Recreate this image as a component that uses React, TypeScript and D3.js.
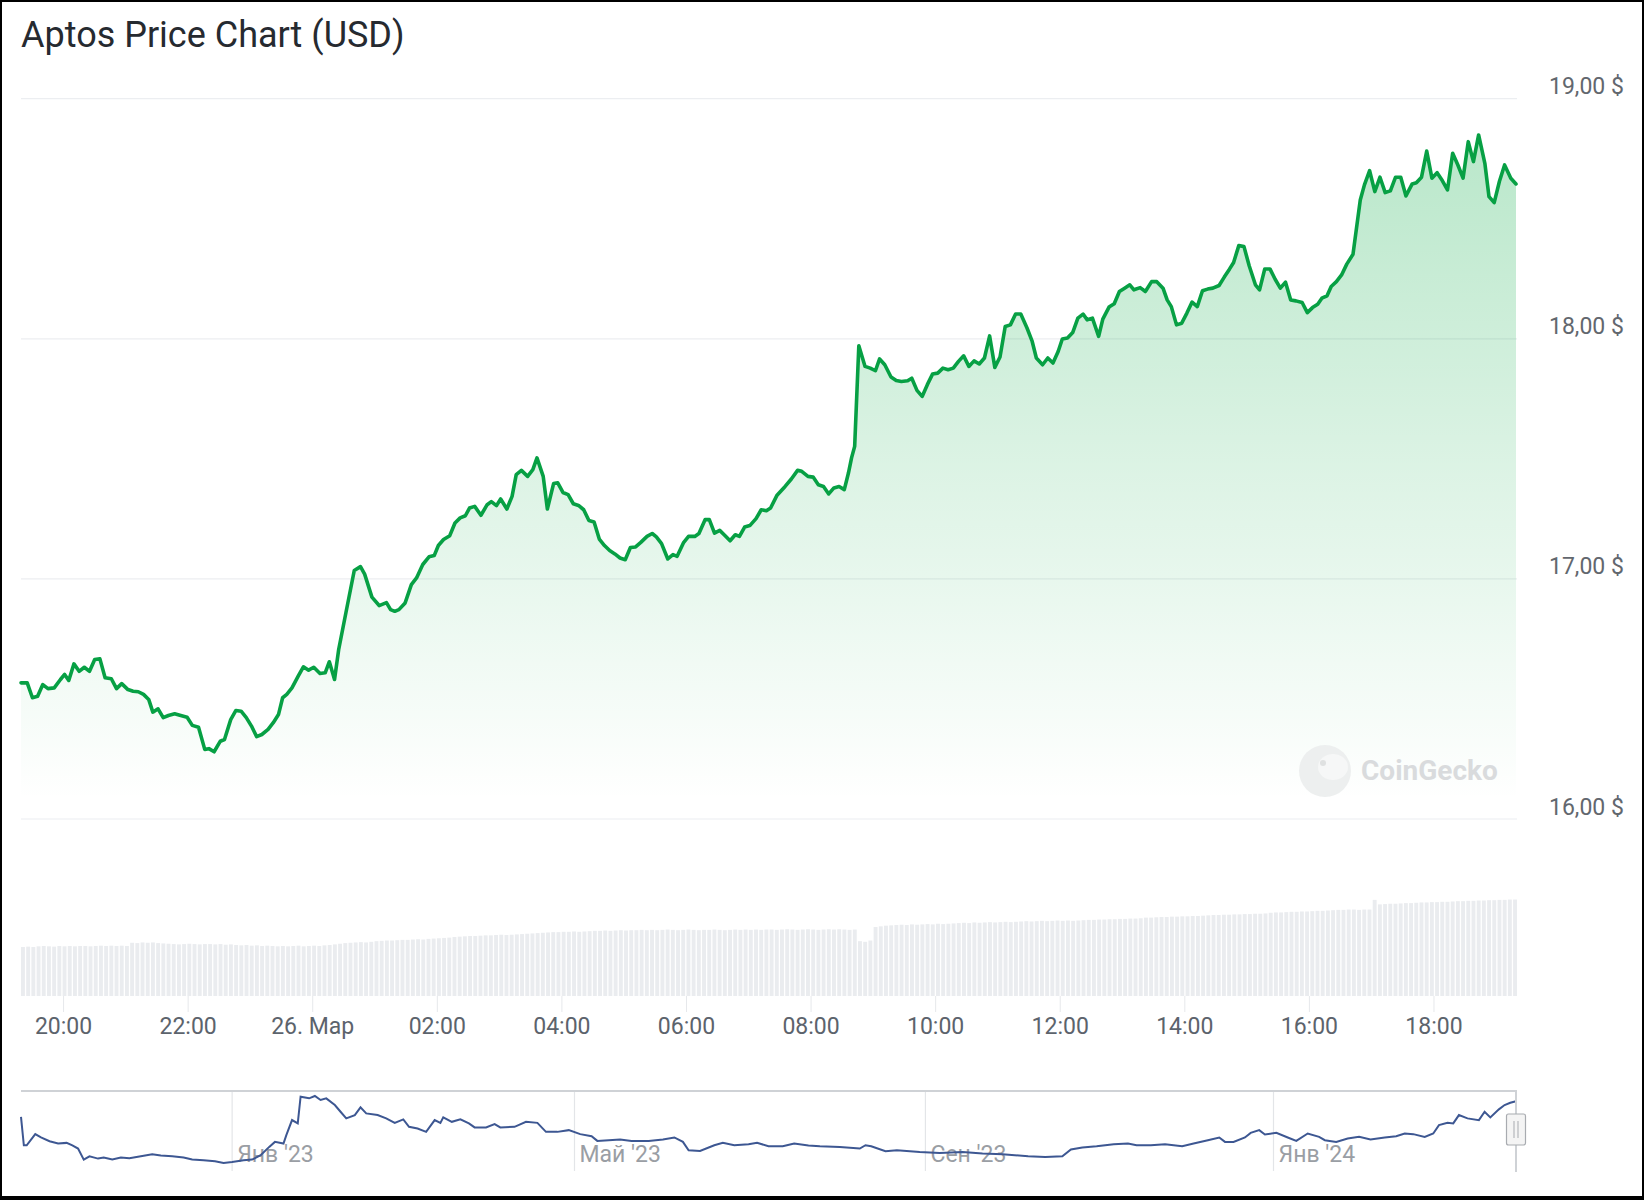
import React, { Component } from "react";
import * as d3 from "d3";

// 24h window shown in the main chart
const chartStart = new Date(2024, 2, 25, 19, 19);
const chartEnd = new Date(2024, 2, 26, 19, 19);

// minutes after chartStart
const priceMinutes = [
  0, 6, 11, 16, 21, 26, 32, 38, 42, 46, 51, 56, 61, 66, 71, 76, 81, 87, 92, 97,
  103, 108, 113, 118, 123, 127, 132, 137, 142, 148, 153, 160, 165, 171, 177, 181, 186, 192, 196, 202,
  207, 212, 217, 222, 227, 232, 238, 243, 248, 252, 256, 261, 267, 272, 277, 282, 288, 293, 297, 302,
  306, 313, 321, 327, 331, 338, 345, 352, 356, 360, 364, 370, 376, 381, 387, 393, 398, 402, 407, 413,
  418, 423, 428, 432, 437, 443, 449, 453, 458, 462, 468, 473, 477, 482, 488, 493, 497, 503, 507, 513,
  517, 522, 527, 532, 537, 542, 547, 552, 557, 562, 567, 572, 577, 582, 587, 592, 597, 603, 608, 612,
  617, 623, 628, 632, 638, 643, 649, 653, 659, 663, 668, 673, 678, 683, 688, 692, 697, 702, 708, 713,
  718, 722, 728, 736, 742, 748, 752, 758, 763, 768, 773, 778, 783, 788, 793, 797, 800, 803, 807, 813,
  818, 823, 827, 832, 838, 843, 848, 854, 858, 863, 868, 873, 878, 883, 888, 893, 898, 903, 908, 913,
  918, 923, 928, 933, 938, 943, 948, 953, 958, 963, 969, 974, 978, 984, 989, 994, 999, 1003, 1008, 1013,
  1018, 1023, 1027, 1032, 1038, 1042, 1048, 1053, 1058, 1063, 1068, 1072, 1078, 1083, 1089, 1094, 1100, 1104, 1108, 1113,
  1118, 1123, 1128, 1133, 1138, 1143, 1148, 1154, 1159, 1164, 1168, 1173, 1178, 1183, 1189, 1193, 1198, 1203, 1208, 1213,
  1218, 1223, 1228, 1234, 1239, 1244, 1249, 1253, 1258, 1262, 1267, 1272, 1277, 1283, 1290, 1294, 1299, 1304, 1309, 1314,
  1319, 1324, 1329, 1334, 1340, 1344, 1349, 1354, 1359, 1364, 1369, 1374, 1379, 1384, 1389, 1394, 1399, 1404, 1410, 1414,
  1419, 1424, 1429, 1435, 1440
];

const priceValues = [
  16.567, 16.567, 16.505, 16.511, 16.56, 16.543, 16.546, 16.581, 16.602, 16.577, 16.646, 16.615, 16.632, 16.615, 16.664, 16.667, 16.588, 16.584, 16.543, 16.564,
  16.539, 16.532, 16.53, 16.519, 16.498, 16.445, 16.459, 16.422, 16.431, 16.438, 16.432, 16.424, 16.39, 16.382, 16.29, 16.293, 16.28, 16.324, 16.331, 16.414,
  16.452, 16.449, 16.422, 16.387, 16.343, 16.352, 16.373, 16.401, 16.435, 16.505, 16.519, 16.546, 16.595, 16.634, 16.62, 16.632, 16.606, 16.609, 16.655, 16.581,
  16.706, 16.86, 17.035, 17.051, 17.02, 16.924, 16.889, 16.901, 16.872, 16.865, 16.872, 16.9, 16.976, 17.004, 17.06, 17.092, 17.097, 17.139, 17.164, 17.18,
  17.233, 17.254, 17.263, 17.295, 17.302, 17.265, 17.309, 17.322, 17.305, 17.333, 17.291, 17.344, 17.434, 17.452, 17.427, 17.455, 17.504, 17.427, 17.291, 17.397,
  17.4, 17.36, 17.351, 17.313, 17.306, 17.288, 17.243, 17.237, 17.166, 17.139, 17.118, 17.104, 17.087, 17.08, 17.131, 17.133, 17.152, 17.177, 17.189, 17.175,
  17.147, 17.083, 17.101, 17.094, 17.15, 17.177, 17.177, 17.189, 17.247, 17.247, 17.191, 17.202, 17.181, 17.159, 17.184, 17.177, 17.216, 17.222, 17.251, 17.288,
  17.284, 17.295, 17.347, 17.385, 17.416, 17.452, 17.448, 17.427, 17.424, 17.392, 17.385, 17.354, 17.379, 17.385, 17.372, 17.441, 17.504, 17.552, 17.971, 17.885,
  17.878, 17.867, 17.916, 17.892, 17.841, 17.826, 17.822, 17.825, 17.836, 17.785, 17.76, 17.809, 17.853, 17.857, 17.878, 17.871, 17.878, 17.906, 17.929, 17.885,
  17.908, 17.895, 17.92, 18.012, 17.881, 17.924, 18.051, 18.058, 18.103, 18.103, 18.045, 17.989, 17.92, 17.892, 17.92, 17.899, 17.947, 17.999, 18.003, 18.026,
  18.086, 18.103, 18.079, 18.086, 18.01, 18.082, 18.132, 18.146, 18.197, 18.211, 18.225, 18.204, 18.213, 18.197, 18.238, 18.238, 18.211, 18.162, 18.134, 18.058,
  18.065, 18.107, 18.153, 18.134, 18.2, 18.207, 18.211, 18.222, 18.257, 18.29, 18.318, 18.388, 18.384, 18.304, 18.225, 18.204, 18.291, 18.291, 18.248, 18.211,
  18.236, 18.162, 18.158, 18.151, 18.109, 18.13, 18.144, 18.169, 18.179, 18.218, 18.238, 18.266, 18.311, 18.352, 18.578, 18.641, 18.7, 18.613, 18.673, 18.609,
  18.616, 18.673, 18.673, 18.595, 18.645, 18.65, 18.673, 18.782, 18.669, 18.692, 18.659, 18.62, 18.773, 18.724, 18.669, 18.821, 18.738, 18.849, 18.731, 18.592,
  18.567, 18.655, 18.724, 18.669, 18.645
];

// 24h volume, one bar per 5 minutes (millions USD)
const volumeValues = [
  152, 153, 152, 154, 155, 154, 153, 155, 154, 155, 154, 155,
  155, 154, 155, 156, 155, 156, 155, 156, 155, 165, 164, 166,
  165, 166, 164, 163, 162, 161, 160, 161, 162, 161, 160, 161,
  161, 160, 161, 159, 160, 158, 157, 158, 156, 157, 155, 156,
  155, 154, 155, 154, 155, 156, 154, 155, 156, 155, 157, 158,
  160, 162, 164, 165, 166, 167, 166, 168, 170, 171, 172, 172,
  173, 174, 174, 175, 176, 175, 177, 178, 179, 180, 181, 183,
  184, 185, 186, 186, 187, 188, 188, 189, 190, 189, 190, 191,
  192, 193, 194, 195, 196, 197, 198, 198, 199, 199, 200, 199,
  200, 201, 202, 202, 203, 202, 203, 204, 203, 204, 204, 205,
  204, 205, 204, 205, 206, 205, 204, 205, 206, 205, 204, 205,
  205, 206, 205, 204, 205, 206, 205, 206, 205, 206, 205, 206,
  206, 205, 206, 207, 206, 205, 206, 207, 206, 205, 206, 207,
  206, 207, 206, 205, 206, 170, 168, 172, 214, 216, 218, 219,
  220, 221, 220, 222, 221, 222, 223, 222, 224, 223, 224, 225,
  226, 227, 226, 228, 227, 228, 229, 228, 229, 230, 229, 230,
  231, 232, 231, 232, 233, 232, 233, 234, 233, 234, 233, 234,
  235, 236, 236, 237, 237, 238, 238, 239, 239, 240, 240, 241,
  243, 243, 244, 245, 245, 246, 246, 247, 247, 248, 248, 249,
  250, 251, 251, 252, 252, 253, 253, 254, 254, 255, 255, 256,
  258, 259, 259, 260, 261, 261, 262, 262, 263, 264, 264, 265,
  266, 267, 267, 268, 268, 267, 268, 268, 298, 284, 285, 286,
  286, 287, 288, 288, 289, 290, 290, 291, 291, 292, 292, 293,
  294, 294, 295, 295, 296, 296, 297, 297, 298, 298, 299, 299
];

const yTicks = [16, 17, 18, 19];

// navigator: full history since listing (days after navStart)
const navStart = new Date(2022, 9, 19);
const navEnd = new Date(2024, 2, 26);
const navDays = [
  0, 1, 2, 5, 7, 10, 13, 16, 18, 20, 22, 24, 27, 29, 32, 35, 38, 42, 46, 49,
  53, 57, 60, 64, 68, 71, 74, 78, 81, 84, 87, 89, 92, 93, 95, 97, 98, 101, 103, 105,
  107, 110, 112, 114, 117, 119, 121, 125, 128, 131, 134, 136, 139, 142, 145, 147, 148, 151, 154, 157,
  159, 163, 166, 168, 173, 177, 181, 184, 188, 192, 196, 200, 202, 206, 210, 214, 220, 225, 229, 232,
  234, 238, 243, 246, 250, 255, 258, 262, 267, 271, 276, 280, 287, 294, 296, 298, 303, 307, 315, 322,
  330, 337, 344, 353, 359, 365, 368, 372, 377, 383, 388, 391, 396, 401, 407, 411, 416, 420, 422, 425,
  429, 431, 434, 436, 440, 444, 447, 451, 455, 457, 461, 465, 469, 473, 478, 482, 485, 488, 492, 495,
  497, 500, 502, 504, 507, 511, 513, 515, 518, 520, 522, 524
];
const navPrices = [
  14.7, 7.6, 7.6, 10.4, 9.55, 8.62, 8.04, 8.2, 7.6, 6.79, 4.03, 4.86, 4.28, 4.54, 4.04, 4.54, 4.36, 4.86, 5.36, 5.04,
  4.86, 4.54, 4.04, 3.86, 3.61, 3.18, 3.43, 3.86, 4.03, 5.11, 7.2, 8.45, 8.05, 10.13, 13.9, 13.06, 19.73, 19.32, 19.9, 18.9,
  19.3, 17.64, 15.97, 14.31, 15.14, 17.07, 15.56, 15.14, 14.31, 13.2, 14.06, 12.21, 11.8, 10.95, 13.88, 13.2, 14.56, 13.46, 14.06, 13.06,
  12.06, 12.06, 12.88, 12.06, 12.21, 13.46, 13.2, 10.95, 10.95, 11.38, 10.38, 9.87, 8.7, 8.87, 9.05, 8.7, 8.7, 9.05, 9.55, 8.45,
  6.37, 6.19, 7.62, 8.2, 7.62, 7.87, 8.2, 7.37, 7.37, 8.05, 7.54, 7.37, 7.2, 6.79, 7.62, 7.37, 6.12, 6.37, 5.94, 5.69,
  5.94, 5.54, 5.36, 4.86, 4.69, 4.86, 6.54, 7.04, 7.37, 7.87, 8.05, 7.62, 7.62, 7.87, 7.37, 8.05, 8.87, 9.55, 8.45, 8.45,
  9.55, 10.7, 11.38, 10.3, 10.7, 9.55, 8.7, 10.55, 9.7, 8.87, 8.45, 9.3, 9.7, 9.05, 9.55, 9.87, 10.55, 10.38, 9.7, 10.55,
  12.63, 13.2, 13.06, 15.14, 14.31, 13.88, 15.97, 14.56, 16.57, 17.64, 18.22, 18.6
];
const navTickDates = [new Date(2023, 0, 1), new Date(2023, 4, 1), new Date(2023, 8, 1), new Date(2024, 0, 1)];
const navTickLabels = ["Янв '23", "Май '23", "Сен '23", "Янв '24"];

class App extends Component {
  svgRef = React.createRef<SVGSVGElement>();

  componentDidMount() {
    this.drawChart();
  }

  drawChart() {
    const width = 1644, height = 1200;
    const left = 21, right = 1516;
    const font = "Roboto, 'Noto Sans', sans-serif";

    const svg = d3.select(this.svgRef.current);
    svg.selectAll("*").remove();

    svg.append("rect").attr("width", width).attr("height", height).attr("fill", "#fff");

    // Title
    svg.append("text")
      .attr("x", 21)
      .attr("y", 47)
      .attr("font-family", font)
      .attr("font-size", 36)
      .attr("fill", "#262a30")
      .text("Aptos Price Chart (USD)");

    // Scales
    const x = d3.scaleTime().domain([chartStart, chartEnd]).range([left, right]);
    const y = d3.scaleLinear().domain([16, 19]).range([819, 98.7]);

    // Grid lines + y labels
    svg.append("g")
      .selectAll("line")
      .data(yTicks)
      .enter()
      .append("line")
      .attr("x1", left)
      .attr("x2", right + 1)
      .attr("y1", d => y(d))
      .attr("y2", d => y(d))
      .attr("stroke", "#eceef1")
      .attr("stroke-width", 1.2);

    svg.append("g")
      .selectAll("text")
      .data(yTicks)
      .enter()
      .append("text")
      .attr("x", 1549)
      .attr("y", d => y(d) - 4.5)
      .attr("font-family", font)
      .attr("font-size", 23)
      .attr("fill", "#62676e")
      .text(d => d3.format(".2f")(d).replace(".", ",") + " $");

    const points = priceMinutes.map((m, i) => ({
      date: d3.timeMinute.offset(chartStart, m),
      price: priceValues[i]
    }));

    // Area gradient
    const defs = svg.append("defs");
    const grad = defs.append("linearGradient")
      .attr("id", "areaGrad")
      .attr("gradientUnits", "userSpaceOnUse")
      .attr("x1", 0).attr("x2", 0)
      .attr("y1", 98.7).attr("y2", 800);
    grad.append("stop").attr("offset", 0).attr("stop-color", "#00a83e").attr("stop-opacity", 0.29);
    grad.append("stop").attr("offset", 1).attr("stop-color", "#00a83e").attr("stop-opacity", 0);

    const area = d3.area<any>()
      .x(d => x(d.date))
      .y0(y(16))
      .y1(d => y(d.price));

    svg.append("path")
      .datum(points)
      .attr("d", area)
      .attr("fill", "url(#areaGrad)");

    // Watermark
    const wm = svg.append("g").attr("opacity", 0.9);
    wm.append("circle").attr("cx", 1325).attr("cy", 771).attr("r", 26).attr("fill", "#eceeee");
    wm.append("ellipse").attr("cx", 1333).attr("cy", 767).attr("rx", 15).attr("ry", 13).attr("fill", "#f6f7f7");
    wm.append("circle").attr("cx", 1323).attr("cy", 763).attr("r", 3).attr("fill", "#dcdedf");
    wm.append("text")
      .attr("x", 1361)
      .attr("y", 780)
      .attr("font-family", font)
      .attr("font-weight", 700)
      .attr("font-size", 28)
      .attr("fill", "#d6d8da")
      .text("CoinGecko");

    // Price line
    const line = d3.line<any>()
      .x(d => x(d.date))
      .y(d => y(d.price));

    svg.append("path")
      .datum(points)
      .attr("d", line)
      .attr("fill", "none")
      .attr("stroke", "#07a044")
      .attr("stroke-width", 3.6)
      .attr("stroke-linejoin", "round")
      .attr("stroke-linecap", "round");

    // Volume bars
    const xb = d3.scaleBand<number>()
      .domain(d3.range(volumeValues.length))
      .range([left, right + 1])
      .paddingInner(0.25);
    const yv = d3.scaleLinear().domain([0, 310]).range([996, 896]);

    svg.append("g")
      .selectAll("rect")
      .data(volumeValues)
      .enter()
      .append("rect")
      .attr("x", (d, i) => xb(i))
      .attr("y", d => yv(d))
      .attr("width", xb.bandwidth())
      .attr("height", d => yv(0) - yv(d))
      .attr("fill", "#eaecef");

    // X axis ticks + labels
    const ticks = x.ticks(d3.timeHour.every(2));
    svg.append("g")
      .selectAll("line")
      .data(ticks)
      .enter()
      .append("line")
      .attr("x1", d => x(d))
      .attr("x2", d => x(d))
      .attr("y1", 996)
      .attr("y2", 1012)
      .attr("stroke", "#e6e8eb");

    svg.append("g")
      .selectAll("text")
      .data(ticks)
      .enter()
      .append("text")
      .attr("x", d => x(d))
      .attr("y", 1034)
      .attr("text-anchor", "middle")
      .attr("font-family", font)
      .attr("font-size", 23)
      .attr("fill", "#5c636c")
      .text(d => d.getHours() === 0 ? d.getDate() + ". Мар" : d3.timeFormat("%H:%M")(d));

    // Navigator
    const xn = d3.scaleTime().domain([navStart, navEnd]).range([left, right]);
    const yn = d3.scaleLinear().domain(d3.extent(navPrices) as [number, number]).range([1163, 1096]);

    svg.append("g")
      .selectAll("line")
      .data(navTickDates)
      .enter()
      .append("line")
      .attr("x1", d => xn(d))
      .attr("x2", d => xn(d))
      .attr("y1", 1091)
      .attr("y2", 1171)
      .attr("stroke", "#e3e5e8")
      .attr("stroke-width", 1.2);

    svg.append("g")
      .selectAll("text")
      .data(navTickDates)
      .enter()
      .append("text")
      .attr("x", d => xn(d) + 5)
      .attr("y", 1162)
      .attr("font-family", font)
      .attr("font-size", 23)
      .attr("fill", "#9a9ea4")
      .text((d, i) => navTickLabels[i]);

    const navLine = d3.line<number>()
      .x((d, i) => xn(d3.timeDay.offset(navStart, navDays[i])))
      .y(d => yn(d));

    svg.append("path")
      .datum(navPrices)
      .attr("d", navLine)
      .attr("fill", "none")
      .attr("stroke", "#3d5792")
      .attr("stroke-width", 2);

    // Navigator outline
    svg.append("path")
      .attr("d", `M${left},1091 H${right} V1172`)
      .attr("fill", "none")
      .attr("stroke", "#cfd2d6")
      .attr("stroke-width", 2);

    // Handle
    const h = svg.append("g");
    h.append("rect")
      .attr("x", right - 9.5)
      .attr("y", 1114)
      .attr("width", 19)
      .attr("height", 31)
      .attr("rx", 2)
      .attr("fill", "#f4f4f4")
      .attr("stroke", "#a8abb0")
      .attr("stroke-width", 1.2);
    h.append("line").attr("x1", right - 2).attr("x2", right - 2).attr("y1", 1121).attr("y2", 1138).attr("stroke", "#a8abb0");
    h.append("line").attr("x1", right + 2).attr("x2", right + 2).attr("y1", 1121).attr("y2", 1138).attr("stroke", "#a8abb0");

    // Black frame of the screenshot
    svg.append("rect").attr("x", 0).attr("y", 0).attr("width", width).attr("height", 2).attr("fill", "#000");
    svg.append("rect").attr("x", 0).attr("y", 0).attr("width", 2).attr("height", height).attr("fill", "#000");
    svg.append("rect").attr("x", width - 2).attr("y", 0).attr("width", 2).attr("height", height).attr("fill", "#000");
    svg.append("rect").attr("x", 0).attr("y", height - 4).attr("width", width).attr("height", 4).attr("fill", "#000");
  }

  render() {
    return (
      <div style={{ position: "absolute", left: 0, top: 0 }}>
        <svg ref={this.svgRef} width={1644} height={1200} />
      </div>
    );
  }
}

export default App;
